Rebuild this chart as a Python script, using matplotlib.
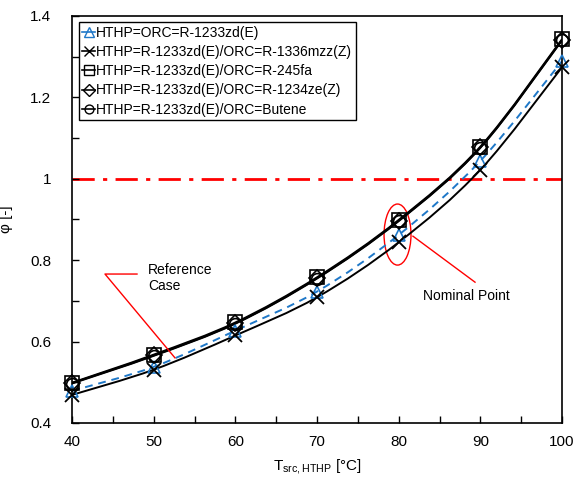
import numpy as np
import matplotlib
matplotlib.use("Agg")
import matplotlib.pyplot as plt
from matplotlib.path import Path
from matplotlib.patches import PathPatch, Ellipse
from matplotlib.lines import Line2D
from matplotlib.ticker import MultipleLocator, FormatStrFormatter

plt.rcParams['font.family'] = ['Liberation Sans', 'DejaVu Sans']

T_src = [40, 50, 60, 70, 80, 90, 100]
phi_ref = [0.479, 0.538, 0.627, 0.723, 0.862, 1.044, 1.289]
phi_1336 = [0.469, 0.531, 0.615, 0.709, 0.844, 1.022, 1.274]
phi_245fa = [0.499, 0.568, 0.647, 0.758, 0.899, 1.079, 1.343]
phi_1234ze = [0.498, 0.566, 0.645, 0.756, 0.897, 1.077, 1.341]
phi_butene = [0.497, 0.565, 0.644, 0.755, 0.896, 1.076, 1.340]

labels = ["HTHP=ORC=R-1233zd(E)",
          "HTHP=R-1233zd(E)/ORC=R-1336mzz(Z)",
          "HTHP=R-1233zd(E)/ORC=R-245fa",
          "HTHP=R-1233zd(E)/ORC=R-1234ze(Z)",
          "HTHP=R-1233zd(E)/ORC=Butene"]

blue = '#1F78C8'

fig = plt.figure(figsize=(5.87, 4.79), dpi=100)
ax = fig.add_axes([72/587, 1-423/479, 490/587, 407/479])


def smooth_path(x, y):
    x = np.asarray(x, float)
    y = np.asarray(y, float)
    verts = [(x[0], y[0])]
    codes = [Path.MOVETO]
    n = len(x)
    for i in range(n - 1):
        p0 = np.array([x[max(i-1, 0)], y[max(i-1, 0)]])
        p1 = np.array([x[i], y[i]])
        p2 = np.array([x[i+1], y[i+1]])
        p3 = np.array([x[min(i+2, n-1)], y[min(i+2, n-1)]])
        c1 = p1 + (p2 - p0) / 6
        c2 = p2 - (p3 - p1) / 6
        verts += [tuple(c1), tuple(c2), tuple(p2)]
        codes += [Path.CURVE4] * 3
    return Path(verts, codes)


series = [
    (phi_ref, dict(color=blue, ls=(0, (4, 3)), marker='^', ms=9, mec=blue)),
    (phi_1336, dict(color='black', ls='-', marker='x', ms=10, mec='black', mew=1.3)),
    (phi_245fa, dict(color='black', ls='-', marker='s', ms=10.5, mec='black')),
    (phi_1234ze, dict(color='black', ls='-', marker='D', ms=8, mec='black')),
    (phi_butene, dict(color='black', ls='-', marker='o', ms=8.5, mec='black')),
]

handles = []
for (vals, st), lab in zip(series, labels):
    patch = PathPatch(smooth_path(T_src, vals), fill=False, edgecolor=st['color'],
                      lw=1.4, linestyle=st['ls'], zorder=2)
    ax.add_patch(patch)
    ax.plot(T_src, vals, ls='none', marker=st['marker'], ms=st['ms'],
            mfc='none', mec=st['mec'], mew=st.get('mew', 1.2), zorder=3,
            clip_on=False)
    handles.append(Line2D([], [], color=st['color'], lw=1.2, ls='-',
                          marker=st['marker'], ms=st['ms'] * 0.75, mfc='none',
                          mec=st['mec'], mew=1.0, label=lab))

ax.axhline(1.0, color='red', lw=2, ls=(0, (8, 3, 1.5, 3)), zorder=1)

# Annotations
ax.plot([47.96, 44.04, 52.61], [0.766, 0.766, 0.560], color='red', lw=1)
ax.text(49.3, 0.757, "Reference\nCase", fontsize=10, va='center', ha='left',
        linespacing=1.2)
ax.add_patch(Ellipse((79.86, 0.863), 3.3, 0.150, fill=False, edgecolor='red', lw=1))
ax.plot([81.75, 89.35], [0.859, 0.746], color='red', lw=1)
ax.text(83.0, 0.712, "Nominal Point", fontsize=10, va='center', ha='left')

ax.set_xlim(40, 100)
ax.set_ylim(0.4, 1.4)
ax.xaxis.set_major_locator(MultipleLocator(10))
ax.xaxis.set_minor_locator(MultipleLocator(5))
ax.yaxis.set_major_locator(MultipleLocator(0.2))
ax.yaxis.set_minor_locator(MultipleLocator(0.1))
ax.yaxis.set_major_formatter(FormatStrFormatter('%g'))
ax.tick_params(which='both', direction='in', labelsize=11, top=False, right=False)
ax.tick_params(which='major', length=5, width=1)
ax.tick_params(which='minor', length=5, width=1)
ax.tick_params(axis='x', which='major', pad=9)
ax.tick_params(axis='y', which='major', pad=15)
for s in ax.spines.values():
    s.set_linewidth(1.2)

ax.set_xlabel(r"T$_{\mathregular{src,HTHP}}$ [°C]", fontsize=11, labelpad=6)
ax.set_ylabel("φ [-]", fontsize=11, labelpad=12)

leg = ax.legend(handles=handles, loc='upper left', bbox_to_anchor=(0.0143, 0.985),
                fontsize=10, handlelength=0.9, handletextpad=0.1, borderpad=0.25,
                labelspacing=0.38, borderaxespad=0, frameon=True, fancybox=False,
                edgecolor='black', framealpha=1)
leg.get_frame().set_linewidth(1)

fig.savefig("out.png", dpi=100)
